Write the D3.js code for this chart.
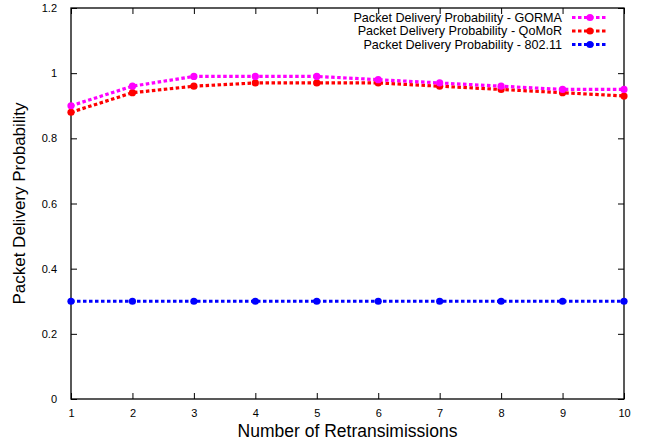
<!DOCTYPE html>
<html>
<head>
<meta charset="utf-8">
<script src="https://cdn.jsdelivr.net/npm/d3@7"></script>
<style>
  body { margin: 0; background: #fff; }
  text { font-family: "Liberation Sans", Arial, sans-serif; }
</style>
</head>
<body>
<svg id="svgHolder"></svg>
<script>
let retransmissions = [1, 2, 3, 4, 5, 6, 7, 8, 9, 10];
let gorma = [0.90, 0.96, 0.99, 0.99, 0.99, 0.98, 0.97, 0.96, 0.95, 0.95];
let qomor = [0.88, 0.94, 0.96, 0.97, 0.97, 0.97, 0.96, 0.95, 0.94, 0.93];
let ieee80211 = [0.30, 0.30, 0.30, 0.30, 0.30, 0.30, 0.30, 0.30, 0.30, 0.30];
let seriesNames = ['Packet Delivery Probability - GORMA', 'Packet Delivery Probability - QoMoR', 'Packet Delivery Probability - 802.11'];
let seriesColors = ['#ff00ff', '#ff0000', '#0000ff'];
let yTicks = [0, 0.2, 0.4, 0.6, 0.8, 1, 1.2];

let width = 648;
let height = 443;
let padLeft = 71, padRight = 624, padTop = 8, padBottom = 399;

let svg = d3.select('#svgHolder').attr('width', width).attr('height', height);

let xScale = d3.scaleLinear().domain([1, 10]).range([padLeft, padRight]);
let yScale = d3.scaleLinear().domain([0, 1.2]).range([padBottom, padTop]);

// inward ticks on all four sides, like gnuplot
svg.append('g')
    .attr('transform', 'translate(0,' + padBottom + ')')
    .call(d3.axisBottom(xScale).tickValues(retransmissions).tickSizeInner(-6).tickSizeOuter(0).tickPadding(10).tickFormat(d3.format('d')))
    .call(g => g.select('.domain').remove());
svg.append('g')
    .attr('transform', 'translate(0,' + padTop + ')')
    .call(d3.axisTop(xScale).tickValues(retransmissions).tickSizeInner(-6).tickSizeOuter(0).tickFormat(''))
    .call(g => g.select('.domain').remove());
svg.append('g')
    .attr('transform', 'translate(' + padLeft + ',0)')
    .call(d3.axisLeft(yScale).tickValues(yTicks).tickSizeInner(-6).tickSizeOuter(0).tickPadding(14).tickFormat(d3.format('')))
    .call(g => g.select('.domain').remove());
svg.append('g')
    .attr('transform', 'translate(' + padRight + ',0)')
    .call(d3.axisRight(yScale).tickValues(yTicks).tickSizeInner(-6).tickSizeOuter(0).tickFormat(''))
    .call(g => g.select('.domain').remove());

svg.selectAll('.tick text').attr('font-size', 11).attr('fill', '#000')
    .style('font-family', '"Liberation Sans", Arial, sans-serif');
svg.selectAll('.tick line').attr('stroke', '#000');

svg.append('rect')
    .attr('x', padLeft).attr('y', padTop)
    .attr('width', padRight - padLeft).attr('height', padBottom - padTop)
    .attr('fill', 'none').attr('stroke', '#000').attr('stroke-width', 1.3);

let allSeries = [gorma, qomor, ieee80211];

let line = d3.line()
    .x((d, i) => xScale(retransmissions[i]))
    .y((d) => yScale(d));

// draw last series first so GORMA sits on top
for (let s = allSeries.length - 1; s >= 0; s--) {
    let g = svg.append('g');
    g.append('path')
        .datum(allSeries[s])
        .attr('d', line)
        .attr('fill', 'none')
        .attr('stroke', seriesColors[s])
        .attr('stroke-width', 3.2)
        .attr('stroke-dasharray', '3.5,2.5');
    g.selectAll('circle')
        .data(allSeries[s])
        .enter()
        .append('circle')
        .attr('cx', (d, i) => xScale(retransmissions[i]))
        .attr('cy', (d) => yScale(d))
        .attr('r', 3.6)
        .attr('fill', seriesColors[s]);
}

// legend
let legend = svg.append('g');
seriesNames.forEach((name, i) => {
    let y = 17.5 + i * 13.5;
    legend.append('text')
        .attr('x', 562).attr('y', y + 4.3)
        .attr('text-anchor', 'end')
        .attr('font-size', 12.6)
        .text(name);
    legend.append('line')
        .attr('x1', 572).attr('x2', 608)
        .attr('y1', y).attr('y2', y)
        .attr('stroke', seriesColors[i])
        .attr('stroke-width', 3.2)
        .attr('stroke-dasharray', '3.5,2.5');
    legend.append('circle')
        .attr('cx', 590).attr('cy', y).attr('r', 3.6)
        .attr('fill', seriesColors[i]);
});

svg.append('text')
    .attr('x', (padLeft + padRight) / 2).attr('y', 437)
    .attr('text-anchor', 'middle')
    .attr('font-size', 17.5)
    .text('Number of Retransimissions');

svg.append('text')
    .attr('transform', 'translate(25,' + (padTop + padBottom) / 2 + ') rotate(-90)')
    .attr('text-anchor', 'middle')
    .attr('font-size', 17)
    .text('Packet Delivery Probability');
</script>
</body>
</html>
